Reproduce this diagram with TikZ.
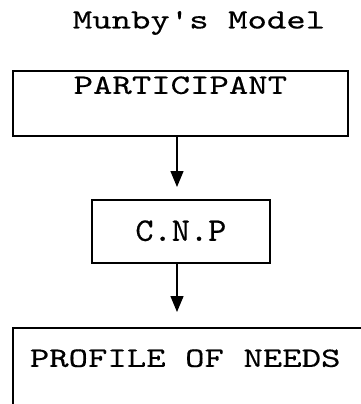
\documentclass[tikz,border=0pt]{standalone}
\usepackage{fontspec}
\newfontfamily\tw[FakeStretch=1.32,FakeBold=0.35,Ligatures=TeXOff]{lmmono10-regular.otf}
\newfontfamily\twc[FakeStretch=1.05,FakeBold=0.35,Ligatures=TeXOff]{lmmono10-regular.otf}
\newcommand\twfont{\tw\fontsize{28}{28}\selectfont\fontdimen2\font=19.5pt\fontdimen3\font=0pt\fontdimen4\font=0pt\relax}
\newcommand\twcfont{\twc\fontsize{33}{33}\selectfont}
\usetikzlibrary{arrows.meta}
\tikzset{
  boxline/.style={draw=black, line width=1.7pt},
  twtext/.style={font=\twfont},
  arr/.style={line width=1.4pt, -{Triangle[length=16pt,width=13pt]}}
}
\begin{document}
\begin{tikzpicture}[x=1pt,y=-1pt]
\useasboundingbox (0,0) rectangle (361,404);
\clip (0,0) rectangle (361,404);
\fill[white] (0,0) rectangle (361,404);
\node[twtext, anchor=base] (title) at (199,28.5) {Munby's Model};
\node[boxline, twtext, anchor=north west, minimum width=335pt, inner xsep=0pt, inner ysep=0pt,
      text height=23pt, text depth=42pt] (p) at (12,70) {PARTICIPANT};
\node[boxline, font=\twcfont, anchor=north west, minimum width=178pt, inner xsep=0pt, inner ysep=0pt,
      text height=41pt, text depth=22pt] (c) at (91,199) {C.N.P};
\node[boxline, twtext, anchor=north west, inner xsep=17pt, inner ysep=0pt,
      text height=39pt, text depth=120pt] (n) at (12,327) {PROFILE OF NEEDS\hspace*{30pt}};
\coordinate (ax) at (177,0);
\draw[arr] (p.south -| ax) -- ([yshift=12pt]c.north -| ax);
\draw[arr] (c.south -| ax) -- ([yshift=15pt]n.north -| ax);
\end{tikzpicture}
\end{document}
